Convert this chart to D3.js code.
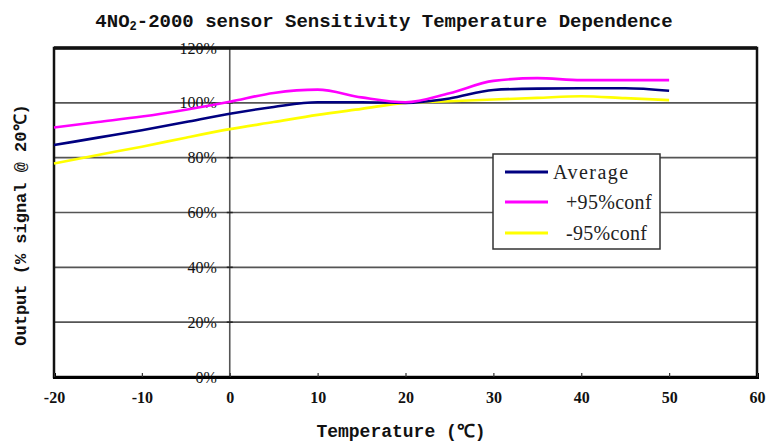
<!DOCTYPE html>
<html><head><meta charset="utf-8">
<script src="https://cdn.jsdelivr.net/npm/d3@7"></script>
<style>body{margin:0;background:#fff}svg{display:block}</style>
</head><body>
<svg id="c" width="767" height="443"></svg>
<script>
const temps = [-20,-15,-10,-5,0,5,10,15,20,25,30,35,40,45,50];
const average = [84.6,87.3,90,93,96,98.5,100.2,100.2,100,101.6,104.7,105.2,105.3,105.3,104.4];
const plus95 = [91,93,95,97.5,100.4,103.6,104.8,102,100.2,103.5,108,109,108.3,108.3,108.3];
const minus95 = [77.9,81,84,87.3,90.4,93,95.6,97.8,100,100.6,101.2,101.8,102.4,101.7,101];
const xTicks = [-20,-10,0,10,20,30,40,50,60];
const yTicks = [0,20,40,60,80,100,120];
const seriesNames = ["Average","+95%conf","-95%conf"];
const seriesColors = ["#000080","#FF00FF","#FFFF00"];

const svg = d3.select("#c");
const L=54,R=757,T=48,B=377;
const x = d3.scaleLinear().domain([-20,60]).range([L,R]);
const y = d3.scaleLinear().domain([0,120]).range([B,T]);

// gridlines
svg.append("g").selectAll("line").data(yTicks.filter(d=>d>0&&d<120)).join("line")
  .attr("x1",L).attr("x2",R).attr("y1",d=>y(d)).attr("y2",d=>y(d))
  .attr("stroke","#555").attr("stroke-width",1.6);
// vertical axis at x=0
svg.append("line").attr("x1",x(0)).attr("x2",x(0)).attr("y1",T).attr("y2",B)
  .attr("stroke","#555").attr("stroke-width",1.6);
// y tick marks at x=0
svg.append("g").selectAll("line").data(yTicks).join("line")
  .attr("x1",x(0)-3).attr("x2",x(0)+3).attr("y1",d=>y(d)).attr("y2",d=>y(d))
  .attr("stroke","#222").attr("stroke-width",1.5);
// frame
svg.append("rect").attr("x",L).attr("y",T).attr("width",R-L).attr("height",B-T)
  .attr("fill","none").attr("stroke","#111").attr("stroke-width",2.5);
svg.append("line").attr("x1",L).attr("x2",R).attr("y1",T).attr("y2",T).attr("stroke","#111").attr("stroke-width",3.5);
// bottom axis
const xAxis = d3.axisBottom(x).tickValues(xTicks).tickSize(-4).tickFormat(d=>d);
const gx = svg.append("g").attr("transform",`translate(0,${B})`).call(xAxis);
gx.select(".domain").attr("stroke","#000").attr("stroke-width",3);
gx.selectAll(".tick line").attr("stroke","#333").attr("stroke-width",1.2);
gx.selectAll(".tick text").attr("dy","1.1em").attr("y",8)
  .attr("font-family","Liberation Serif").attr("font-size",16).attr("font-weight","bold").attr("fill","#111");

// y tick labels at x=0
svg.append("g").selectAll("text").data(yTicks).join("text")
  .attr("x",x(0)-13).attr("y",d=>y(d)).attr("dy","0.35em").attr("text-anchor","end")
  .attr("font-family","Liberation Serif").attr("font-size",16).attr("fill","#111")
  .text(d=>d+"%");

// lines
const line = d3.line().x((d,i)=>x(temps[i])).y(d=>y(d)).curve(d3.curveMonotoneX);
const series=[average,plus95,minus95];
[2,0,1].forEach(k=>{
  svg.append("path").datum(series[k]).attr("d",line).attr("fill","none")
    .attr("stroke",seriesColors[k]).attr("stroke-width",2.6);
});

// legend
const lg = svg.append("g");
lg.append("rect").attr("x",493).attr("y",154).attr("width",167).attr("height",95)
  .attr("fill","#fff").attr("stroke","#333").attr("stroke-width",1.5);
const ly=[172,202,233], lx=[553,566,566];
seriesNames.forEach((n,i)=>{
  lg.append("line").attr("x1",505).attr("x2",548).attr("y1",ly[i]).attr("y2",ly[i])
    .attr("stroke",seriesColors[i]).attr("stroke-width",3);
  lg.append("text").attr("x",lx[i]).attr("y",ly[i]).attr("dy","0.35em")
    .attr("font-family","Liberation Serif").attr("font-size",20).attr("fill","#222")
    .attr("letter-spacing", i===0?1.5:0.3).text(n);
});

// title
const t = svg.append("text").attr("x",384).attr("y",27).attr("text-anchor","middle")
  .attr("font-family","Liberation Mono").attr("font-weight","bold").attr("font-size",19).attr("fill","#111");
t.append("tspan").text("4NO");
t.append("tspan").attr("font-size",12).attr("dy",3).text("2");
t.append("tspan").attr("dy",-3).text("-2000 sensor Sensitivity Temperature Dependence");

// axis titles
svg.append("text").attr("x",401).attr("y",437).attr("text-anchor","middle")
  .attr("font-family","Liberation Mono").attr("font-weight","bold").attr("font-size",18).attr("fill","#111")
  .text("Temperature (℃)");
svg.append("text").attr("transform","translate(26,225) rotate(-90)").attr("text-anchor","middle")
  .attr("font-family","Liberation Mono").attr("font-weight","bold").attr("font-size",17).attr("fill","#111")
  .text("Output (% signal @ 20℃)");
</script>
</body></html>
